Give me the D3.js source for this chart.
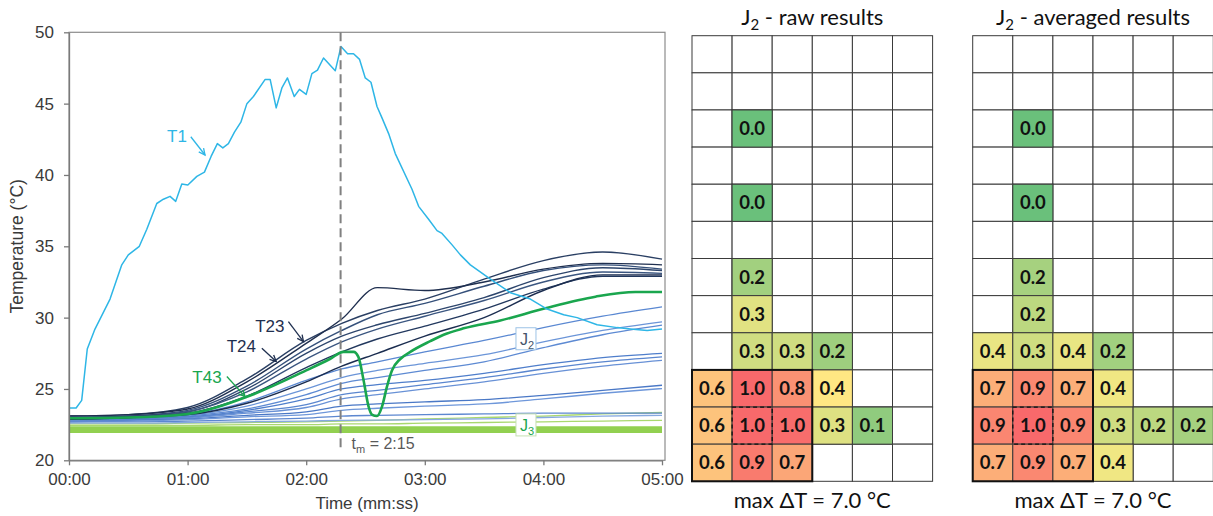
<!DOCTYPE html>
<html><head><meta charset="utf-8">
<script src="https://cdn.jsdelivr.net/npm/d3@7"></script>
<style>body{margin:0;background:#fff}svg{display:block}</style>
</head><body><svg id="c" width="1213" height="516"></svg>
<script>
// ---------------- DATA ----------------
const xTicks = [0, 1, 2, 3, 4, 5];               // minutes
const xTickLabels = ["00:00", "01:00", "02:00", "03:00", "04:00", "05:00"];
const yTicks = [20, 25, 30, 35, 40, 45, 50];
const tGrid = [0, 0.5, 1, 1.5, 2, 2.3, 2.6, 3, 3.5, 4, 4.5, 5];

// T1 (minutes, °C)
const t1Time = [0,0.06,0.107,0.154,0.219,0.346,0.445,0.5,0.593,0.656,0.74,0.796,0.852,0.9,0.951,1.002,1.078,1.142,1.198,1.251,1.297,1.344,1.395,1.449,1.5,1.555,1.654,1.696,1.747,1.795,1.842,1.899,1.943,2.0,2.048,2.095,2.146,2.245,2.293,2.349,2.399,2.45,2.498,2.546,2.597,2.639,2.695,2.751,2.892,2.948,3.032,3.103,3.145,3.23,3.3,3.384,3.553,3.722,3.89,4.031,4.171,4.284,4.453,4.622,4.734,4.875,5.0];
const t1Temp = [23.67,23.67,24.2,27.8,29.2,31.3,33.7,34.4,35.0,36.2,38.0,38.3,38.5,38.15,39.36,39.3,39.9,40.2,41.3,42.2,41.9,42.2,43.0,43.7,45.0,45.5,46.7,46.7,44.7,46.1,46.8,45.5,46.0,45.65,47.1,47.35,48.2,47.3,49.0,48.5,48.5,48.1,46.8,46.5,44.8,44.0,42.9,41.5,39.0,37.8,36.9,36.1,35.9,35.1,34.4,33.7,32.7,31.75,31.3,30.6,30.2,30.0,29.5,29.3,29.2,29.1,29.2];

// T43
const t43Time = [0,0.5,1,1.5,2,2.2,2.315,2.40,2.44,2.484,2.526,2.554,2.597,2.639,2.681,2.723,2.793,2.878,3.046,3.159,3.327,3.637,4.017,4.439,4.776,5];
const t43Temp = [22.95,23.0,23.25,24.45,26.3,27.1,27.6,27.6,27.25,25.6,23.76,23.2,23.1,23.76,25.17,26.3,27.1,27.6,28.35,28.8,29.25,29.8,30.66,31.47,31.8,31.8];

// dark (navy) J2 sensors, incl. T23/T24
const navy1 = [23.1,23.2,23.7,25.7,28.4,29.6,30.5,31.3,32.7,34.0,34.6,34.1];
const navy2 = [23.1,23.2,23.6,25.5,28.2,29.9,32.1,31.9,32.5,33.4,33.8,33.7];
const navy3 = [23.0,23.1,23.5,25.2,27.8,29.1,30.2,31.0,32.2,33.3,33.7,33.4];
const navy4 = [23.0,23.1,23.4,25.0,27.5,28.7,29.5,30.3,31.4,32.8,33.5,33.3];
const navy5 = [22.9,23.0,23.4,24.8,27.1,28.3,29.2,30.1,31.2,32.5,33.2,33.1];
const navy6 = [22.9,23.0,23.3,24.5,26.5,27.6,28.5,29.4,30.6,32.0,32.9,32.9];
const navy7 = [22.9,23.0,23.2,24.0,25.5,26.6,27.5,28.7,30.0,31.9,33.0,33.0];

// blue J2 sensors
const blue1 = [22.9,22.95,23.2,24.1,25.6,26.4,26.9,27.6,28.4,29.3,30.1,30.75];
const blue2 = [22.9,22.95,23.15,23.8,25.0,25.8,26.3,26.8,27.4,28.3,29.1,29.7];
const blue3 = [22.85,22.9,23.1,23.6,24.6,25.4,25.8,26.3,26.9,27.9,28.8,29.47];
const blue4 = [22.8,22.9,23.05,23.5,24.3,25.0,25.3,25.6,26.1,26.7,27.2,27.5];
const blue5 = [22.8,22.85,23.0,23.4,23.9,24.6,24.9,25.3,25.8,26.4,26.9,27.25];
const blue6 = [22.75,22.8,22.95,23.3,23.7,24.3,24.6,25.0,25.5,26.1,26.6,27.0];
const blue7 = [22.7,22.8,22.9,23.15,23.4,23.8,23.95,24.1,24.25,24.55,24.9,25.26];
const blue8 = [22.7,22.75,22.85,23.05,23.2,23.5,23.65,23.8,23.95,24.3,24.7,25.03];
const blue9 = [22.7,22.7,22.75,22.85,22.95,23.1,23.15,23.2,23.25,23.3,23.3,23.3];
const blue10 = [22.6,22.6,22.65,22.7,22.75,22.8,22.82,22.85,22.9,23.0,23.1,23.15];

// light green J3 sensors
const green1 = [22.3,22.3,22.3,22.3,22.3,22.3,22.3,22.3,22.3,22.3,22.3,22.3];
const green2 = [22.2,22.2,22.2,22.2,22.2,22.2,22.2,22.2,22.2,22.2,22.2,22.2];
const green3 = [22.1,22.1,22.1,22.1,22.1,22.1,22.1,22.1,22.1,22.1,22.1,22.1];
const green4 = [22.0,22.0,22.0,22.0,22.0,22.0,22.0,22.0,22.0,22.0,22.0,22.0];
const green5 = [22.55,22.55,22.6,22.65,22.7,22.75,22.8,22.9,23.0,23.1,23.25,23.35];
const green6 = [22.45,22.45,22.45,22.5,22.5,22.55,22.55,22.6,22.65,22.7,22.75,22.8];

const tm = 2.29;   // marked instant

// heat maps: [row, col, relative ΔT]
const rawCells = [[2,1,0.02],[4,1,0.02],[6,1,0.17],[7,1,0.34],
  [8,1,0.29],[8,2,0.29],[8,3,0.16],
  [9,0,0.6],[9,1,1.0],[9,2,0.82],[9,3,0.44],
  [10,0,0.6],[10,1,1.0],[10,2,0.98],[10,3,0.33],[10,4,0.12],
  [11,0,0.6],[11,1,0.92],[11,2,0.73]];
const avgCells = [[2,1,0.02],[4,1,0.02],[6,1,0.18],[7,1,0.24],
  [8,0,0.36],[8,1,0.29],[8,2,0.36],[8,3,0.17],
  [9,0,0.69],[9,1,0.86],[9,2,0.69],[9,3,0.38],
  [10,0,0.87],[10,1,1.0],[10,2,0.87],[10,3,0.29],[10,4,0.24],[10,5,0.18],
  [11,0,0.69],[11,1,0.86],[11,2,0.69],[11,3,0.38]];
const maxDeltaT = 7.0;

// ---------------- CHART ----------------
const svg = d3.select("#c");
svg.append("rect").attr("width",1213).attr("height",516).attr("fill","#fff");

const x = d3.scaleLinear().domain([0,5]).range([69,662]);
const y = d3.scaleLinear().domain([20,50]).range([460.3,32.3]);
const FONT = "'Liberation Sans', Arial, sans-serif";

// frame
svg.append("rect").attr("x",x(0)).attr("y",y(50)).attr("width",x(5)+3-x(0)).attr("height",y(20)-y(50))
  .attr("fill","none").attr("stroke","#8c8c8c").attr("stroke-width",1.2);

const plot = svg.append("g");
const curveLine = d3.line().x(d=>x(d[0])).y(d=>y(d[1])).curve(d3.curveMonotoneX);
const straight = d3.line().x(d=>x(d[0])).y(d=>y(d[1]));
const zipG = arr => tGrid.map((t,i)=>[t,arr[i]]);

function draw(series, color, w, gen) {
  plot.append("path").attr("d",(gen||curveLine)(series)).attr("fill","none")
    .attr("stroke",color).attr("stroke-width",w).attr("stroke-linejoin","round");
}
// J3
[green1,green2,green3,green4].forEach(s=>draw(zipG(s),"#92d050",2.6));
[green5,green6].forEach(s=>draw(zipG(s),"#a9d86e",1.3));
// blue J2
const blues = [blue1,blue2,blue3,blue4,blue5,blue6,blue7,blue8,blue9,blue10];
const blueCols = ["#5a88d2","#6b95d8","#5d8ad3","#4f7ecb","#5a86cf","#6891d6","#4a78c6","#6e97da","#5c87d0","#86a9e0"];
blues.forEach((s,i)=>draw(zipG(s),blueCols[i],1.3));
// navy J2
const navies = [navy1,navy2,navy3,navy4,navy5,navy6,navy7];
const navyCols = ["#2a3f63","#1f2f4f","#35507a","#2d456c","#3b5680","#22385e","#1b2d50"];
navies.forEach((s,i)=>draw(zipG(s),navyCols[i],1.4));
// T43
draw(t43Time.map((t,i)=>[t,t43Temp[i]]),"#1aa64e",2.6);
// T1
draw(t1Time.map((t,i)=>[t,t1Temp[i]]),"#2eb6e6",1.5,straight);

// dashed tm line
svg.append("line").attr("x1",x(tm)).attr("x2",x(tm)).attr("y1",y(50)).attr("y2",y(20.6))
  .attr("stroke","#808080").attr("stroke-width",2).attr("stroke-dasharray","9,5");

// axes
const xAxis = svg.append("g").attr("transform",`translate(0,${y(20)})`)
  .call(d3.axisBottom(x).tickValues(xTicks).tickFormat((d,i)=>xTickLabels[i]).tickSize(5).tickSizeOuter(0).tickPadding(8));
const yAxis = svg.append("g").attr("transform",`translate(${x(0)},0)`)
  .call(d3.axisLeft(y).tickValues(yTicks).tickSize(5).tickSizeOuter(0).tickPadding(10));
[xAxis,yAxis].forEach(a=>{
  a.select(".domain").attr("stroke","#7a7a7a").attr("stroke-width",1.3);
  a.selectAll(".tick line").attr("stroke","#7a7a7a").attr("stroke-width",1.3);
  a.selectAll("text").attr("font-family",FONT).attr("font-size",17).attr("fill","#3a3a3a");
});
svg.append("text").attr("x",(x(0)+x(5)+3)/2).attr("y",509).attr("text-anchor","middle")
  .attr("font-family",FONT).attr("font-size",17).attr("fill","#3a3a3a").text("Time (mm:ss)");
svg.append("text").attr("transform",`translate(23,${(y(20)+y(50))/2}) rotate(-90)`).attr("text-anchor","middle")
  .attr("font-family",FONT).attr("font-size",17.5).attr("fill","#3a3a3a").text("Temperature (°C)");

// annotations with arrows
const annos = [
  {txt:"T1", tx:0.827, tv:42.33, color:"#2eb6e6", a:[1.027,42.68,1.147,41.4]},
  {txt:"T23", tx:1.57, tv:29.02, color:"#1f2f4f", a:[1.85,29.72,1.977,28.32]},
  {txt:"T24", tx:1.33, tv:27.62, color:"#1f2f4f", a:[1.626,27.86,1.747,26.92]},
  {txt:"T43", tx:1.04, tv:25.44, color:"#1aa64e", a:[1.331,25.87,1.485,24.46]}
];
annos.forEach(o=>{
  svg.append("text").attr("x",x(o.tx)).attr("y",y(o.tv)).attr("font-family",FONT).attr("font-size",17)
    .attr("fill",o.color).text(o.txt);
  const x1=x(o.a[0]),y1=y(o.a[1]),x2=x(o.a[2]),y2=y(o.a[3]);
  svg.append("line").attr("x1",x1).attr("y1",y1).attr("x2",x2).attr("y2",y2).attr("stroke",o.color).attr("stroke-width",1.3);
  const ang=Math.atan2(y2-y1,x2-x1), L=7, sp=0.45;
  svg.append("path").attr("d",`M${x2-L*Math.cos(ang-sp)},${y2-L*Math.sin(ang-sp)}L${x2},${y2}L${x2-L*Math.cos(ang+sp)},${y2-L*Math.sin(ang+sp)}`)
    .attr("fill","none").attr("stroke",o.color).attr("stroke-width",1.3);
});

// J2 / J3 boxes
function tagBox(t,v,sub,color,border){
  const cx=x(t), cy=y(v);
  svg.append("rect").attr("x",cx-10).attr("y",cy-11).attr("width",20).attr("height",22)
    .attr("fill","#fff").attr("stroke",border).attr("stroke-width",1);
  const tx=svg.append("text").attr("x",cx-6).attr("y",cy+6).attr("font-family",FONT).attr("font-size",16).attr("fill",color);
  tx.append("tspan").text("J");
  tx.append("tspan").attr("dy",4).attr("font-size",11).text(sub);
}
tagBox(3.853,28.52,"2","#44546a","#9dc3e6");
tagBox(3.853,22.48,"3","#1aa64e","#c5e0b4");

// tm label
const tml = svg.append("text").attr("x",x(tm)+11).attr("y",y(20.8)).attr("font-family",FONT).attr("font-size",16).attr("fill","#595959");
tml.append("tspan").text("t");
tml.append("tspan").attr("dy",4).attr("font-size",11).text("m");
tml.append("tspan").attr("dy",-4).text(" = 2:15");

// ---------------- HEAT MAPS ----------------
const color = d3.scaleLinear().domain([0,0.42,1]).range(["#63BE7B","#FFEB84","#F8696B"]);
const fmt = d3.format(".1f");
const HFONT = "Lato, 'Open Sans', sans-serif";
function heat(x0, title, cells){
  const cx = d3.scaleBand().domain(d3.range(6)).range([x0, x0+240.6]);
  const cy = d3.scaleBand().domain(d3.range(12)).range([35.7, 481.3]);
  const g = svg.append("g");
  const all = [];
  for (let r=0;r<12;r++) for (let c=0;c<6;c++) all.push([r,c]);
  g.selectAll("rect.bg").data(all).join("rect").attr("class","bg")
    .attr("x",d=>cx(d[1])).attr("y",d=>cy(d[0])).attr("width",cx.bandwidth()).attr("height",cy.bandwidth())
    .attr("fill","#fff").attr("stroke","#3a3a3a").attr("stroke-width",1);
  g.selectAll("rect.val").data(cells).join("rect").attr("class","val")
    .attr("x",d=>cx(d[1])).attr("y",d=>cy(d[0])).attr("width",cx.bandwidth()).attr("height",cy.bandwidth())
    .attr("fill",d=>color(d[2])).attr("stroke","#3a3a3a").attr("stroke-width",1);
  g.selectAll("text.val").data(cells).join("text").attr("class","val")
    .attr("x",d=>cx(d[1])+cx.bandwidth()/2).attr("y",d=>cy(d[0])+cy.bandwidth()/2+6.5)
    .attr("text-anchor","middle").attr("font-family",HFONT).attr("font-weight",700).attr("font-size",18.5)
    .attr("fill","#111").text(d=>fmt(d[2]));
  // hot block
  g.append("rect").attr("x",cx(0)).attr("y",cy(9)).attr("width",cx.bandwidth()*3).attr("height",cy.bandwidth()*3)
    .attr("fill","none").attr("stroke","#111").attr("stroke-width",2);
  g.append("rect").attr("x",cx(1)).attr("y",cy(10)).attr("width",cx.bandwidth()).attr("height",cy.bandwidth())
    .attr("fill","none").attr("stroke","#111").attr("stroke-width",1.3).attr("stroke-dasharray","4,3");
  const mid = x0+120.3;
  const t = g.append("text").attr("x",mid).attr("y",25).attr("text-anchor","middle")
    .attr("font-family",HFONT).attr("font-size",22).attr("fill","#111");
  t.append("tspan").text("J");
  t.append("tspan").attr("dy",5).attr("font-size",15).text("2");
  t.append("tspan").attr("dy",-5).text(" - "+title);
  g.append("text").attr("x",mid).attr("y",508).attr("text-anchor","middle")
    .attr("font-family",HFONT).attr("font-size",22).attr("fill","#111").text(`max ΔT = ${fmt(maxDeltaT)} °C`);
}
heat(692, "raw results", rawCells);
heat(972.7, "averaged results", avgCells);
</script></body></html>
